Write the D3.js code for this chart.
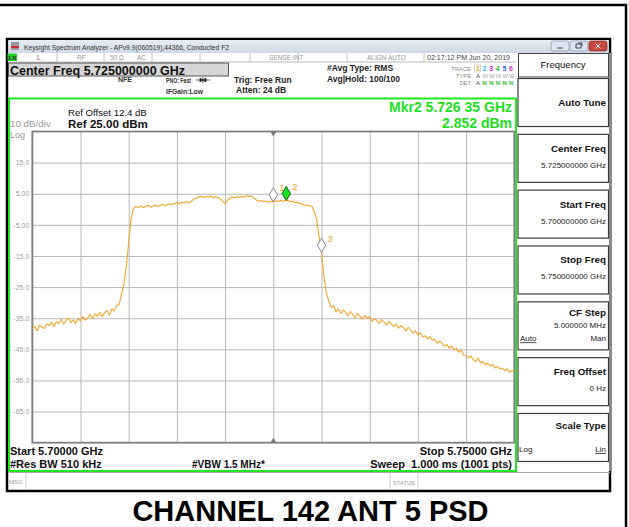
<!DOCTYPE html>
<html>
<head>
<meta charset="utf-8">
<script src="https://cdn.jsdelivr.net/npm/d3@7"></script>
<style>
    body { margin: 0; background: #fff; }
    svg { display: block; font-family: 'Liberation Sans', Arial, sans-serif; }
</style>
</head>
<body>
<svg id="chart" width="629" height="527"></svg>
<script>
// sweep settings
const FREQ_START = 5.700
const FREQ_STOP = 5.750
const REF_LEVEL = 25
const BOTTOM_LEVEL = -75

const freqTicks = [5.700, 5.705, 5.710, 5.715, 5.720, 5.725, 5.730, 5.735, 5.740, 5.745, 5.750]
const levelTicks = [15, 5, -5, -15, -25, -35, -45, -55, -65]
const levelLabels = ['15.0', '5.00', '-5.00', '-15.0', '-25.0', '-35.0', '-45.0', '-55.0', '-65.0']

// trace 1 (RMS avg), one value every 0.25 MHz from start to stop, dBm
const traceDbm = [
    -38.4, -37.6, -39.0, -37.2, -37.9, -38.3, -36.8, -37.4, -36.3, -37.7,
    -36.1, -36.7, -35.3, -36.9, -35.8, -35.0, -36.4, -35.5, -36.8, -35.1,
    -35.9, -34.5, -35.6, -34.9, -33.8, -35.2, -33.6, -34.4, -33.0, -34.5,
    -33.2, -32.6, -34.0, -31.9, -32.7, -31.0, -30.6, -27.5, -24.0, -18.5,
    -10.5, -3.0, 0.2, 0.9, 0.5, 1.1, 0.6, 0.9, 1.3, 0.7,
    1.0, 1.4, 0.9, 1.2, 1.6, 1.1, 1.5, 1.8, 1.4, 1.9,
    2.1, 1.8, 2.3, 2.0, 2.4, 2.1, 2.6, 3.2, 3.6, 3.9,
    4.2, 3.8, 4.1, 3.9, 4.3, 3.7, 4.0, 3.8, 3.4, 2.6,
    1.7, 2.9, 3.6, 3.9, 3.7, 4.1, 3.8, 4.2, 3.9, 4.4,
    4.0, 4.3, 3.6, 3.0, 2.6, 2.8, 2.4, 2.7, 2.3, 2.6,
    2.4, 2.7, 2.5, 2.9, 2.6, 2.8, 2.9, 2.4, 2.6, 2.2,
    2.3, 1.9, 1.6, 1.3, 1.4, 1.1, 1.0, -0.6, -3.4, -8.9,
    -13.8, -21.5, -26.8, -29.4, -31.5, -31.0, -32.9, -32.0, -33.5, -32.4,
    -33.1, -34.2, -32.9, -33.8, -34.9, -33.4, -34.5, -35.3, -34.1, -35.0,
    -34.6, -36.0, -35.1, -35.8, -36.7, -35.4, -36.3, -37.2, -36.0, -36.9,
    -37.6, -36.8, -38.2, -37.4, -38.0, -39.1, -37.9, -38.8, -39.8, -39.0,
    -40.4, -39.7, -41.0, -40.6, -41.7, -40.9, -42.1, -41.8, -43.0, -42.3,
    -43.1, -44.0, -43.4, -44.6, -43.9, -45.2, -44.7, -45.9, -45.3, -46.8,
    -46.9, -47.7, -47.1, -48.3, -48.9, -47.8, -49.3, -48.9, -50.0, -49.4,
    -50.4, -49.8, -51.0, -50.5, -51.4, -51.0, -51.9, -51.3, -52.3, -51.8,
    -52.1
]

const markerNames = ['1', '2', '3']
const markerFreqs = [5.725, 5.72635, 5.730]
const activeMarker = '2'

const softkeyLabels = ['Auto Tune', 'Center Freq', 'Start Freq', 'Stop Freq', 'CF Step', 'Freq Offset', 'Scale Type']
const softkeyValues = ['', '5.725000000 GHz', '5.700000000 GHz', '5.750000000 GHz', '5.000000 MHz', '0 Hz', '']
const softkeyToggles = [null, null, null, null, ['Auto', 'Man'], null, ['Log', 'Lin']]

const traceDigitColors = ['#f0a020', '#10c8e0', '#e020e0', '#30c030', '#3060ff', '#d030d0']

const svg = d3.select('#chart')

function txt(g, x, y, s, o = {}) {
    return g.append('text')
        .attr('x', x)
        .attr('y', y)
        .attr('font-size', o.size || 8)
        .attr('font-weight', o.bold ? 'bold' : null)
        .attr('fill', o.color || '#000')
        .attr('text-anchor', o.anchor || 'start')
        .style('white-space', 'pre')
        .text(s)
}

// document cell border
svg.append('line').attr('x1', 0).attr('x2', 627).attr('y1', 5).attr('y2', 5)
    .attr('stroke', '#000').attr('stroke-width', 2.5)
svg.append('line').attr('x1', 626).attr('x2', 626).attr('y1', 4).attr('y2', 527)
    .attr('stroke', '#000').attr('stroke-width', 2.5)

// window
const win = svg.append('g')
win.append('rect')
    .attr('x', 7).attr('y', 39).attr('width', 603).attr('height', 452)
    .attr('fill', '#fff').attr('stroke', '#000').attr('stroke-width', 2.5)

const grad = svg.append('defs').append('linearGradient')
    .attr('id', 'titlebar').attr('x1', 0).attr('x2', 0).attr('y1', 0).attr('y2', 1)
grad.append('stop').attr('offset', 0).attr('stop-color', '#e8eef6')
grad.append('stop').attr('offset', 1).attr('stop-color', '#cdd9e7')

win.append('rect').attr('x', 8.5).attr('y', 40).attr('width', 600).attr('height', 13).attr('fill', 'url(#titlebar)')
win.append('rect').attr('x', 11).attr('y', 42).attr('width', 8).attr('height', 8).attr('fill', '#9a9a9a')
win.append('rect').attr('x', 11).attr('y', 46).attr('width', 8).attr('height', 2).attr('fill', '#d03030')
txt(win, 24, 49.5, 'Keysight Spectrum Analyzer - APv9.9(060519),44366, Conducted F2', { size: 7.3, color: '#333' })
    .attr('textLength', 205).attr('lengthAdjust', 'spacingAndGlyphs')

const winButtons = win.selectAll('g.wbtn')
    .data([551, 570, 589])
    .join('g')
    .attr('class', 'wbtn')
    .attr('transform', d => `translate(${d},41)`)
winButtons.append('rect')
    .attr('width', 18).attr('height', 10).attr('rx', 2)
    .attr('fill', (d, i) => (i === 2 ? '#c8473e' : '#dbe4ef'))
    .attr('stroke', (d, i) => (i === 2 ? '#8a2a22' : '#8797ab'))
    .attr('stroke-width', 0.7)
winButtons.append('path')
    .attr('d', (d, i) => (i === 0 ? 'M6,7H12' : i === 1 ? 'M6,3h5v4h-5z M8,2h4v3' : 'M6.5,2.5L11.5,7.5M11.5,2.5L6.5,7.5'))
    .attr('fill', 'none')
    .attr('stroke', (d, i) => (i === 2 ? '#fff' : '#445'))
    .attr('stroke-width', 1)

// status row
win.append('rect').attr('x', 8).attr('y', 53).attr('width', 508).attr('height', 9).attr('fill', '#fff')
win.append('line').attr('x1', 8).attr('x2', 516).attr('y1', 62).attr('y2', 62).attr('stroke', '#bbb')
win.append('rect').attr('x', 7.5).attr('y', 53.5).attr('width', 9.5).attr('height', 7.5).attr('fill', '#22d022')
txt(win, 8.5, 60, 'LX', { size: 6, color: '#222', bold: true })
win.selectAll('line.sep')
    .data([57, 104, 152, 200, 250, 298, 347, 424])
    .join('line')
    .attr('class', 'sep')
    .attr('x1', d => d).attr('x2', d => d)
    .attr('y1', 53).attr('y2', 62)
    .attr('stroke', '#c4c4c4')
txt(win, 37, 59.5, 'L', { size: 6.5, color: '#8a3a6a' })
txt(win, 77, 59.5, 'RF', { size: 6.5, color: '#999' })
txt(win, 110, 59.5, '50 Ω', { size: 6.5, color: '#999' })
txt(win, 137, 59.5, 'AC', { size: 6.5, color: '#999' })
txt(win, 269, 59.5, 'SENSE:INT', { size: 6.5, color: '#999' })
txt(win, 367, 59.5, 'ALIGN AUTO', { size: 6.5, color: '#999' })
txt(win, 427, 59.5, '02:17:12 PM Jun 20, 2019', { size: 6.8, color: '#444' })
    .attr('textLength', 83).attr('lengthAdjust', 'spacingAndGlyphs')

// header settings
win.append('rect').attr('x', 8.5).attr('y', 63).attr('width', 220).attr('height', 13)
    .attr('fill', '#d6d6d6').attr('stroke', '#555').attr('stroke-width', 1)
txt(win, 10, 74.5, 'Center Freq 5.725000000 GHz', { size: 12.5, bold: true, color: '#111' })
txt(win, 118, 82, 'NFE', { size: 7, bold: true, color: '#333' })
txt(win, 166, 83, 'PNO: Fast', { size: 7, bold: true, color: '#333' })
    .attr('textLength', 25).attr('lengthAdjust', 'spacingAndGlyphs')
txt(win, 166, 93.5, 'IFGain:Low', { size: 7, bold: true, color: '#333' })
    .attr('textLength', 37).attr('lengthAdjust', 'spacingAndGlyphs')
win.append('path')
    .attr('d', 'M196,80H210 M203,77V83 M200,78L203,80L200,82Z M206,78L203,80L206,82Z')
    .attr('stroke', '#333').attr('stroke-width', 0.8).attr('fill', '#333')
txt(win, 234, 82.5, 'Trig: Free Run', { size: 8.5, bold: true, color: '#222' })
txt(win, 236, 93, 'Atten: 24 dB', { size: 8.5, bold: true, color: '#222' })
txt(win, 327, 71, '#Avg Type: RMS', { size: 8.5, bold: true, color: '#222' })
txt(win, 327, 82, 'Avg|Hold: 100/100', { size: 8.5, bold: true, color: '#222' })
txt(win, 471, 71, 'TRACE', { size: 5.8, color: '#888', anchor: 'end' })
txt(win, 471, 78, 'TYPE', { size: 5.8, color: '#888', anchor: 'end' })
txt(win, 471, 85, 'DET', { size: 5.8, color: '#888', anchor: 'end' })
win.append('rect').attr('x', 474.5).attr('y', 65).attr('width', 6).attr('height', 7)
    .attr('fill', 'none').attr('stroke', '#bbb').attr('stroke-width', 0.6)
traceDigitColors.forEach((c, i) => {
    txt(win, 476 + i * 6.6, 71, String(i + 1), { size: 7, color: c, bold: true })
    txt(win, 476 + i * 6.6, 78, i === 0 ? 'A' : 'W', { size: 6, color: i === 0 ? '#444' : '#aaa' })
    txt(win, 476 + i * 6.6, 85, i === 0 ? 'A' : 'N', { size: 6, color: i === 0 ? '#444' : '#30c030', bold: i > 0 })
})

// softkey panel
const panel = win.append('g')
panel.append('rect').attr('x', 517).attr('y', 53).attr('width', 93).attr('height', 418).attr('fill', '#fff')
panel.append('rect').attr('x', 609).attr('y', 53).attr('width', 3).attr('height', 418).attr('fill', '#8a8a8a')
panel.append('rect').attr('x', 518.5).attr('y', 53.5).attr('width', 90).attr('height', 23.5)
    .attr('fill', '#fff').attr('stroke', '#444').attr('stroke-width', 1)
txt(panel, 563, 68, 'Frequency', { size: 9.5, color: '#111', anchor: 'middle' })

const keyScale = d3.scaleBand().domain(softkeyLabels).range([78, 461]).paddingInner(0.14)
const keys = panel.selectAll('g.key')
    .data(softkeyLabels)
    .join('g')
    .attr('class', 'key')
    .attr('transform', d => `translate(0,${keyScale(d)})`)
keys.append('rect')
    .attr('x', 518).attr('y', 0.5)
    .attr('width', 90.5).attr('height', keyScale.bandwidth())
    .attr('fill', '#fff').attr('stroke', '#3c3c3c').attr('stroke-width', 1.2)
keys.each(function (d, i) {
    const g = d3.select(this)
    const bw = keyScale.bandwidth()
    const tog = softkeyToggles[i]
    const val = softkeyValues[i]
    if (!val && !tog) {
        txt(g, 606, bw / 2 + 4, d, { size: 9.8, bold: true, color: '#111', anchor: 'end' })
    } else if (tog && val) {
        txt(g, 606, 15, d, { size: 9.8, bold: true, color: '#111', anchor: 'end' })
        txt(g, 606, 27, val, { size: 8, color: '#222', anchor: 'end' })
        txt(g, 520, 40, tog[0], { size: 8, color: '#222' }).attr('text-decoration', 'underline')
        txt(g, 606, 40, tog[1], { size: 8, color: '#222', anchor: 'end' })
    } else if (tog) {
        txt(g, 606, 16, d, { size: 9.8, bold: true, color: '#111', anchor: 'end' })
        txt(g, 519, 39, tog[0], { size: 8, color: '#222' })
        txt(g, 606, 39, tog[1], { size: 8, color: '#222', anchor: 'end' }).attr('text-decoration', 'underline')
    } else {
        txt(g, 606, 18, d, { size: 9.8, bold: true, color: '#111', anchor: 'end' })
        txt(g, 606, 34, val, { size: 8, color: '#222', anchor: 'end' })
    }
})

// status bar
win.append('line').attr('x1', 8).attr('x2', 610).attr('y1', 472.5).attr('y2', 472.5).attr('stroke', '#aaa')
win.selectAll('line.sbar')
    .data([26, 390, 418])
    .join('line')
    .attr('class', 'sbar')
    .attr('x1', d => d).attr('x2', d => d)
    .attr('y1', 473).attr('y2', 490)
    .attr('stroke', '#ccc')
txt(win, 9, 484, 'MSG', { size: 5.8, color: '#999' })
txt(win, 404, 485, 'STATUS', { size: 5.8, color: '#999', anchor: 'middle' })

// measurement area
const plot = { left: 32.3, right: 514.3, top: 131.5, bottom: 442.7 }
const xScale = d3.scaleLinear().domain([FREQ_START, FREQ_STOP]).range([plot.left, plot.right])
const yScale = d3.scaleLinear().domain([BOTTOM_LEVEL, REF_LEVEL]).range([plot.bottom, plot.top])

const meas = svg.append('g')
meas.append('rect')
    .attr('x', 9).attr('y', 98.5).attr('width', 507).attr('height', 372.5)
    .attr('fill', '#fff').attr('stroke', '#1ee81e').attr('stroke-width', 2)

txt(meas, 68, 115.5, 'Ref Offset 12.4 dB', { size: 9.6, color: '#111' })
txt(meas, 68, 128, 'Ref 25.00 dBm', { size: 11.6, bold: true, color: '#111' })
txt(meas, 10, 126.5, '10 dB/div', { size: 9.8, color: '#9a9a9a' })
txt(meas, 10, 138, 'Log', { size: 9, color: '#9a9a9a' })
txt(meas, 512, 112, 'Mkr2 5.726 35 GHz', { size: 14, bold: true, color: '#1ee01e', anchor: 'end' })
txt(meas, 512, 128, '2.852 dBm', { size: 14, bold: true, color: '#1ee01e', anchor: 'end' })

meas.append('g')
    .attr('transform', `translate(0,${plot.bottom})`)
    .call(d3.axisBottom(xScale).tickValues(freqTicks).tickSize(-(plot.bottom - plot.top)).tickFormat(''))
    .call(g => g.select('.domain').remove())
    .call(g => g.selectAll('.tick line').attr('stroke', '#b8b8b8'))

meas.append('g')
    .attr('transform', `translate(${plot.left},0)`)
    .call(d3.axisLeft(yScale)
        .tickValues(levelTicks)
        .tickFormat((d, i) => levelLabels[i])
        .tickSize(-(plot.right - plot.left))
        .tickPadding(3))
    .call(g => g.select('.domain').remove())
    .call(g => g.selectAll('.tick line').attr('stroke', '#b8b8b8'))
    .call(g => g.selectAll('.tick text')
        .attr('fill', '#a0a0a0')
        .attr('font-size', 7)
        .attr('font-family', "'Liberation Sans', Arial, sans-serif"))

meas.append('rect')
    .attr('x', plot.left).attr('y', plot.top)
    .attr('width', plot.right - plot.left).attr('height', plot.bottom - plot.top)
    .attr('fill', 'none').attr('stroke', '#808080').attr('stroke-width', 1.8)

// center frequency ticks on top and bottom of graticule
const cx = xScale((FREQ_START + FREQ_STOP) / 2)
meas.append('path')
    .attr('d', `M${cx - 3},${plot.top}L${cx + 3},${plot.top}L${cx},${plot.top + 5}Z M${cx - 3},${plot.bottom}L${cx + 3},${plot.bottom}L${cx},${plot.bottom - 5}Z`)
    .attr('fill', '#777')

const step = (FREQ_STOP - FREQ_START) / (traceDbm.length - 1)
const traceFreqs = traceDbm.map((d, i) => FREQ_START + i * step)
const trace = traceDbm.map((v, i) => ({ f: traceFreqs[i], v }))

meas.append('clipPath').attr('id', 'plotclip')
    .append('rect')
    .attr('x', plot.left).attr('y', plot.top)
    .attr('width', plot.right - plot.left).attr('height', plot.bottom - plot.top)

meas.append('path')
    .datum(trace)
    .attr('clip-path', 'url(#plotclip)')
    .attr('fill', 'none')
    .attr('stroke', '#f7a52a')
    .attr('stroke-width', 1.1)
    .attr('stroke-linejoin', 'round')
    .attr('d', d3.line().x(d => xScale(d.f)).y(d => yScale(d.v)))

// markers sit with their lower tip on the trace
const traceAt = d3.scaleLinear().domain(traceFreqs).range(traceDbm)
const mk = meas.selectAll('g.marker')
    .data(markerNames)
    .join('g')
    .attr('class', 'marker')
    .attr('transform', (d, i) => `translate(${xScale(markerFreqs[i])},${yScale(traceAt(markerFreqs[i])) - 7})`)
mk.append('path')
    .attr('d', 'M0,-7L4.2,0L0,7L-4.2,0Z')
    .attr('fill', d => (d === activeMarker ? '#1ee01e' : '#fff'))
    .attr('stroke', d => (d === activeMarker ? '#0a6a0a' : '#888'))
    .attr('stroke-width', 1)
mk.append('text')
    .attr('x', 6)
    .attr('y', -3.5)
    .attr('font-size', 9.5)
    .attr('fill', '#f0a030')
    .text(d => d)

txt(meas, 10, 455, 'Start 5.70000 GHz', { size: 11, bold: true, color: '#111' })
txt(meas, 10, 468, '#Res BW 510 kHz', { size: 11, bold: true, color: '#111' })
txt(meas, 192, 468, '#VBW 1.5 MHz*', { size: 10, bold: true, color: '#111' })
txt(meas, 512, 455, 'Stop 5.75000 GHz', { size: 11, bold: true, color: '#111', anchor: 'end' })
txt(meas, 512, 468, 'Sweep  1.000 ms (1001 pts)', { size: 11, bold: true, color: '#111', anchor: 'end' })

// caption under the screenshot
txt(svg, 310.5, 521, 'CHANNEL 142 ANT 5 PSD', { size: 29, bold: true, color: '#000', anchor: 'middle' })
</script>
</body>
</html>
